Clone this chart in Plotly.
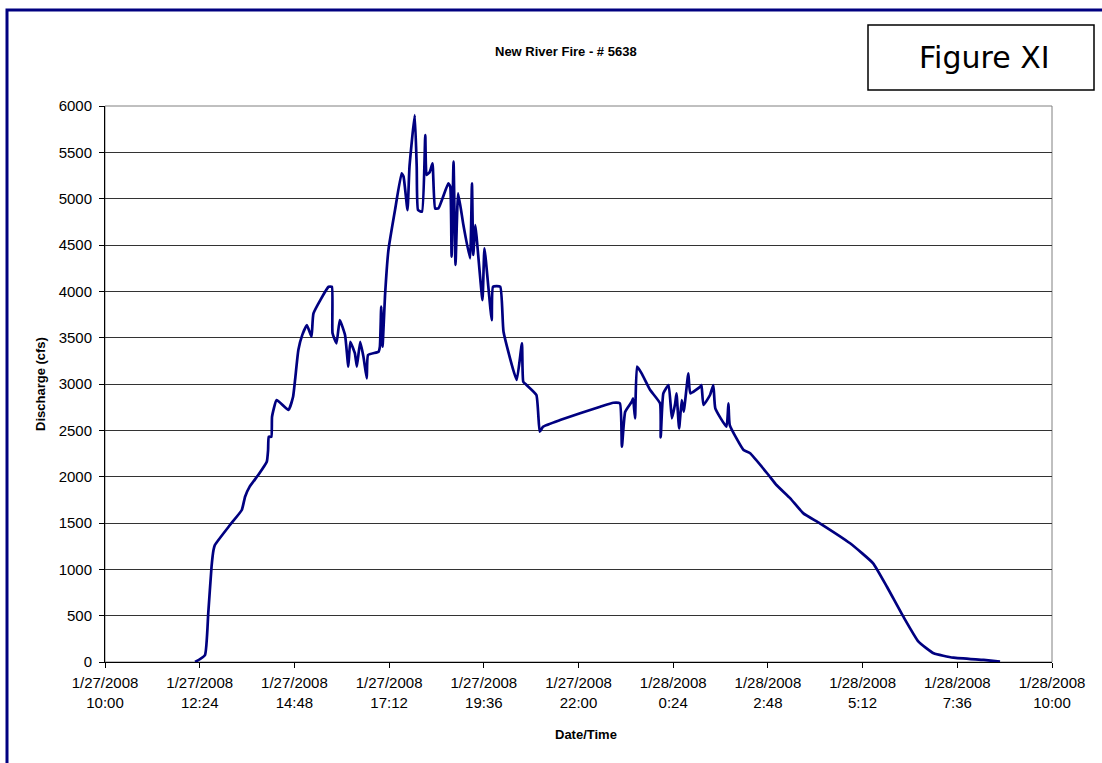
import plotly.graph_objects as go

# ---- data ----
times = [
    "2008-01-27 12:17", "2008-01-27 12:32", "2008-01-27 12:37", "2008-01-27 12:42", "2008-01-27 12:45",
    "2008-01-27 12:47", "2008-01-27 13:10", "2008-01-27 13:28", "2008-01-27 13:33", "2008-01-27 13:40",
    "2008-01-27 13:53", "2008-01-27 14:06", "2008-01-27 14:08", "2008-01-27 14:09", "2008-01-27 14:13",
    "2008-01-27 14:14", "2008-01-27 14:21", "2008-01-27 14:39", "2008-01-27 14:46", "2008-01-27 14:49",
    "2008-01-27 14:54", "2008-01-27 15:00", "2008-01-27 15:07", "2008-01-27 15:14", "2008-01-27 15:17",
    "2008-01-27 15:40", "2008-01-27 15:45", "2008-01-27 15:46", "2008-01-27 15:52", "2008-01-27 15:57",
    "2008-01-27 16:05", "2008-01-27 16:10", "2008-01-27 16:13", "2008-01-27 16:20", "2008-01-27 16:23",
    "2008-01-27 16:28", "2008-01-27 16:33", "2008-01-27 16:38", "2008-01-27 16:40", "2008-01-27 16:56",
    "2008-01-27 16:58", "2008-01-27 17:00", "2008-01-27 17:02", "2008-01-27 17:06", "2008-01-27 17:11",
    "2008-01-27 17:21", "2008-01-27 17:31", "2008-01-27 17:34", "2008-01-27 17:40", "2008-01-27 17:43",
    "2008-01-27 17:51", "2008-01-27 17:54", "2008-01-27 17:56", "2008-01-27 18:02", "2008-01-27 18:07",
    "2008-01-27 18:09", "2008-01-27 18:14", "2008-01-27 18:18", "2008-01-27 18:22", "2008-01-27 18:27",
    "2008-01-27 18:42", "2008-01-27 18:45", "2008-01-27 18:47", "2008-01-27 18:50", "2008-01-27 18:53",
    "2008-01-27 18:57", "2008-01-27 19:05", "2008-01-27 19:15", "2008-01-27 19:18", "2008-01-27 19:20",
    "2008-01-27 19:23", "2008-01-27 19:25", "2008-01-27 19:34", "2008-01-27 19:37", "2008-01-27 19:48",
    "2008-01-27 19:50", "2008-01-27 20:01", "2008-01-27 20:06", "2008-01-27 20:26", "2008-01-27 20:34",
    "2008-01-27 20:36", "2008-01-27 20:41", "2008-01-27 20:56", "2008-01-27 21:01", "2008-01-27 21:06",
    "2008-01-27 21:32", "2008-01-27 22:33", "2008-01-27 22:53", "2008-01-27 23:03", "2008-01-27 23:06",
    "2008-01-27 23:11", "2008-01-27 23:21", "2008-01-27 23:23", "2008-01-27 23:26", "2008-01-27 23:29",
    "2008-01-27 23:36", "2008-01-27 23:49", "2008-01-28 00:04", "2008-01-28 00:05", "2008-01-28 00:09",
    "2008-01-28 00:17", "2008-01-28 00:22", "2008-01-28 00:27", "2008-01-28 00:29", "2008-01-28 00:33",
    "2008-01-28 00:37", "2008-01-28 00:40", "2008-01-28 00:47", "2008-01-28 00:50", "2008-01-28 01:05",
    "2008-01-28 01:07", "2008-01-28 01:10", "2008-01-28 01:20", "2008-01-28 01:25", "2008-01-28 01:28",
    "2008-01-28 01:45", "2008-01-28 01:48", "2008-01-28 01:50", "2008-01-28 02:11", "2008-01-28 02:21",
    "2008-01-28 02:49", "2008-01-28 03:01", "2008-01-28 03:22", "2008-01-28 03:42", "2008-01-28 04:07",
    "2008-01-28 04:53", "2008-01-28 05:28", "2008-01-28 05:49", "2008-01-28 06:14", "2008-01-28 06:37",
    "2008-01-28 07:00", "2008-01-28 07:30", "2008-01-28 08:16", "2008-01-28 08:41",
]
discharge = [
    0, 75, 525, 1028, 1208,
    1262, 1478, 1640, 1784, 1892,
    2018, 2161, 2288, 2431, 2431,
    2647, 2827, 2719, 2863, 3043,
    3367, 3530, 3636, 3510, 3762,
    4049, 4049, 3547, 3439, 3690,
    3528, 3187, 3456, 3331, 3187,
    3456, 3295, 3061, 3313, 3348,
    3403, 3834, 3403, 3978, 4446,
    4877, 5273, 5237, 4877, 5345,
    5902, 5345, 4877, 4859, 5686,
    5255, 5291, 5381, 4895, 4895,
    5165, 5129, 4373, 5399, 4284,
    5057, 4715, 4356, 5165, 4392,
    4715, 4590, 3906, 4464, 3690,
    4050, 4050, 3564, 3043, 3439,
    3025, 2989, 2881, 2485, 2539,
    2611, 2755, 2798, 2791, 2323,
    2700, 2809, 2845, 2629, 3187,
    3115, 2935, 2791, 2424, 2899,
    2989, 2629, 2791, 2899, 2521,
    2827, 2701, 3115, 2899, 2971,
    2989, 2773, 2881, 2989, 2737,
    2539, 2791, 2557, 2288, 2252,
    2018, 1910, 1766, 1604, 1497,
    1281, 1065, 812, 489, 219,
    94, 47, 22, 4,
]

tick_times = [
    "2008-01-27 10:00", "2008-01-27 12:24", "2008-01-27 14:48", "2008-01-27 17:12",
    "2008-01-27 19:36", "2008-01-27 22:00", "2008-01-28 00:24", "2008-01-28 02:48",
    "2008-01-28 05:12", "2008-01-28 07:36", "2008-01-28 10:00",
]
tick_labels = [
    "1/27/2008<br>10:00", "1/27/2008<br>12:24", "1/27/2008<br>14:48", "1/27/2008<br>17:12",
    "1/27/2008<br>19:36", "1/27/2008<br>22:00", "1/28/2008<br>0:24", "1/28/2008<br>2:48",
    "1/28/2008<br>5:12", "1/28/2008<br>7:36", "1/28/2008<br>10:00",
]

title_text = "New River Fire - # 5638"
figure_label = "Figure XI"
x_title = "Date/Time"
y_title = "Discharge (cfs)"

# ---- layout geometry (screen pixels; body margin removed below) ----
W, H = 1102, 763
L, R, T, B = 105, 1052, 106, 662   # plot area in screen pixels
PW, PH = R - L, B - T


def xp(px):
    return (px - L) / PW


def yp(py):
    return (B - py) / PH


FONT = "Arial, Liberation Sans, sans-serif"

fig = go.Figure()
fig.add_trace(go.Scatter(
    x=times, y=discharge, mode="lines",
    line=dict(color="#000080", width=2.7, shape="spline", smoothing=0.4),
    hoverinfo="skip", showlegend=False,
))

fig.update_layout(
    width=W, height=H,
    margin=dict(l=L, r=W - R, t=T, b=H - B, pad=0),
    paper_bgcolor="white", plot_bgcolor="white",
    font=dict(family=FONT, size=14, color="black"),
    showlegend=False,
    hovermode=False,
)

fig.update_xaxes(
    type="date",
    range=[tick_times[0], tick_times[-1]],
    tickmode="array", tickvals=tick_times, ticktext=tick_labels,
    ticks="outside", ticklen=5, tickcolor="black", tickwidth=1,
    showline=True, linecolor="black", linewidth=1,
    showgrid=False, zeroline=False,
    tickfont=dict(family=FONT, size=15, color="black"),
    ticklabelstandoff=2,
)
fig.update_yaxes(
    range=[0, 6000], dtick=500, tick0=0,
    ticks="outside", ticklen=5, tickcolor="black", tickwidth=1,
    showline=True, linecolor="black", linewidth=1,
    showgrid=True, gridcolor="#333333", gridwidth=1,
    zeroline=False,
    tickfont=dict(family=FONT, size=15, color="black"),
    ticklabelstandoff=4,
)

shapes = [
    # grey plot-area frame (top/right)
    dict(type="rect", xref="paper", yref="paper", x0=0, x1=1, y0=0, y1=1,
         line=dict(color="#808080", width=1), layer="below"),
    # navy chart-area border (extends beyond the image at right/bottom)
    dict(type="rect", xref="paper", yref="paper",
         x0=xp(7), x1=xp(1115), y0=yp(780), y1=yp(10),
         line=dict(color="#000080", width=3), layer="above"),
    # Figure label box
    dict(type="rect", xref="paper", yref="paper",
         x0=xp(868), x1=xp(1094), y0=yp(90), y1=yp(25),
         line=dict(color="black", width=1.5), fillcolor="white", layer="above"),
]

annotations = [
    dict(text="<b>%s</b>" % title_text, xref="paper", yref="paper",
         x=xp(566), y=yp(52), showarrow=False, xanchor="center", yanchor="middle",
         font=dict(family=FONT, size=13, color="black")),
    dict(text=figure_label, xref="paper", yref="paper",
         x=xp(984), y=yp(57), showarrow=False, xanchor="center", yanchor="middle",
         font=dict(family="DejaVu Sans", size=30, color="black")),
    dict(text="<b>%s</b>" % x_title, xref="paper", yref="paper",
         x=xp(586), y=yp(734), showarrow=False, xanchor="center", yanchor="middle",
         font=dict(family=FONT, size=13, color="black")),
    dict(text="<b>%s</b>" % y_title, xref="paper", yref="paper",
         x=xp(40), y=yp(384), showarrow=False, xanchor="center", yanchor="middle",
         textangle=-90, font=dict(family=FONT, size=13, color="black")),
]

fig.update_layout(shapes=shapes, annotations=annotations)

fig.write_html(
    "out.html",
    config={"displayModeBar": False, "staticPlot": True},
    post_script="document.body.style.margin='0';document.body.style.overflow='hidden';",
)
